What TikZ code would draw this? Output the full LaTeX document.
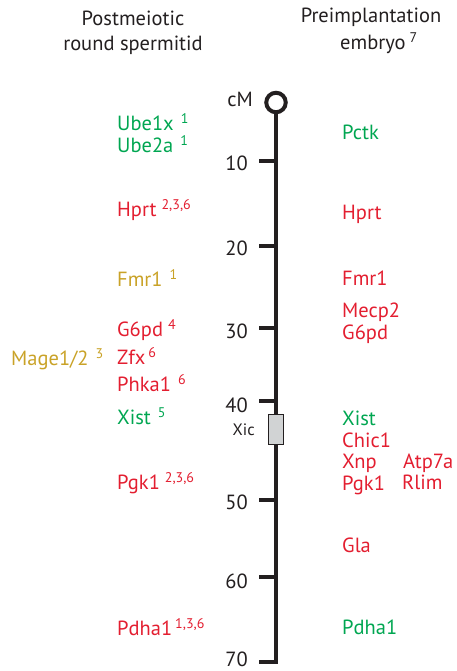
\documentclass[tikz,border=0pt]{standalone}
\usepackage{fontspec}
\setmainfont{PT Sans}
\definecolor{gr}{HTML}{00A651}
\definecolor{rd}{HTML}{E31E30}
\definecolor{gd}{HTML}{C9A227}
\definecolor{ink}{HTML}{231F20}
\definecolor{boxgray}{HTML}{D1D3D4}
\newcommand{\supnum}[2][5pt]{\hspace{#1}\raisebox{7pt}{\fontsize{14}{14}\selectfont #2}}
\tikzset{
  gene/.style={anchor=base west, inner sep=0pt, font=\fontsize{20.5}{22}\selectfont},
  title/.style={anchor=base, inner sep=0pt, text=ink, font=\fontsize{20.5}{22}\selectfont},
  ticklab/.style={anchor=east, inner sep=0pt, text=ink, font=\fontsize{20.5}{22}\selectfont},
  axisline/.style={draw=ink, line width=4.5pt},
  tickline/.style={draw=ink, line width=4pt},
}
\begin{document}
\begin{tikzpicture}[x=1pt,y=-1pt]
\useasboundingbox (0,0) rectangle (457,671);
% titles
\node[title] (t1) at (133,25.5) {Postmeiotic};
\node[title] (t2) at (133,50.5) {round spermitid};
\node[title] (t3) at (371,23) {Preimplantation};
\node[title, anchor=base west] (t4) at (340,49.5) {embryo\supnum[4pt]{7}};
% axis
\node[circle, draw=ink, line width=4pt, minimum size=19.5pt, inner sep=0pt] (c0) at (276,102.5) {};
\coordinate (bot) at (276,662);
\coordinate (botl) at (259,662);
\draw[axisline, line join=miter] (c0.south) -- (bot) -- (botl);
\node[ticklab] (cm) at (253,99.5) {cM};
\foreach \v/\y/\ly in {10/161/163, 20/246/248, 30/328/331, 40/401/405, 50/500/502.5, 60/577/581.5}{
  \coordinate (a\v) at (276,\y);
  \coordinate (b\v) at (259,\y);
  \draw[tickline] (a\v) -- (b\v);
  \node[ticklab] (l\v) at (248,\ly) {\v};
}
\node[ticklab] (l70) at (248,659.5) {70};
\node[draw=ink, fill=boxgray, line width=1pt, minimum width=15pt, minimum height=30pt, inner sep=0pt] (xic) at (275.5,429) {};
\node[ticklab, font=\fontsize{16.5}{18}\selectfont] (xiclab) at (255,430) {Xic};
% left column
\node[gene, text=gr] (g1) at (117,131) {Ube1x\supnum[7pt]{1}};
\node[gene, text=gr] (g2) at (117,153) {Ube2a\supnum[7pt]{1}};
\node[gene, text=rd] (g3) at (117,216) {Hprt\supnum{2,3,6}};
\node[gene, text=gd] (g4) at (117,286) {Fmr1\supnum[7pt]{1}};
\node[gene, text=rd] (g5) at (117,336) {G6pd\supnum{4}};
\node[gene, text=rd] (g6) at (117,364) {Zfx\supnum[3pt]{6}};
\node[gene, text=rd] (g7) at (117,391) {Phka1\supnum[7pt]{6}};
\node[gene, text=gr] (g8) at (117,424) {Xist\supnum[7pt]{5}};
\node[gene, text=rd] (g9) at (117,489) {Pgk1\supnum{2,3,6}};
\node[gene, text=rd] (g10) at (117,635) {Pdha1\supnum[3pt]{1,3,6}};
\node[gene, text=gd] (g11) at (11,365) {Mage1/2\supnum[7pt]{3}};
% right column
\node[gene, text=gr] (r1) at (342,140) {Pctk};
\node[gene, text=rd] (r2) at (342,219) {Hprt};
\node[gene, text=rd] (r3) at (342,285) {Fmr1};
\node[gene, text=rd] (r4) at (342,317) {Mecp2};
\node[gene, text=rd] (r5) at (342,339) {G6pd};
\node[gene, text=gr] (r6) at (342,425) {Xist};
\node[gene, text=rd] (r7) at (342,447) {Chic1};
\node[gene, text=rd] (r8) at (342,468) {Xnp};
\node[gene, text=rd] (r9) at (403,468) {Atp7a};
\node[gene, text=rd] (r10) at (342,490) {Pgk1};
\node[gene, text=rd] (r11) at (402,489) {Rlim};
\node[gene, text=rd] (r12) at (342,552) {Gla};
\node[gene, text=gr] (r13) at (342,634) {Pdha1};
\end{tikzpicture}
\end{document}
